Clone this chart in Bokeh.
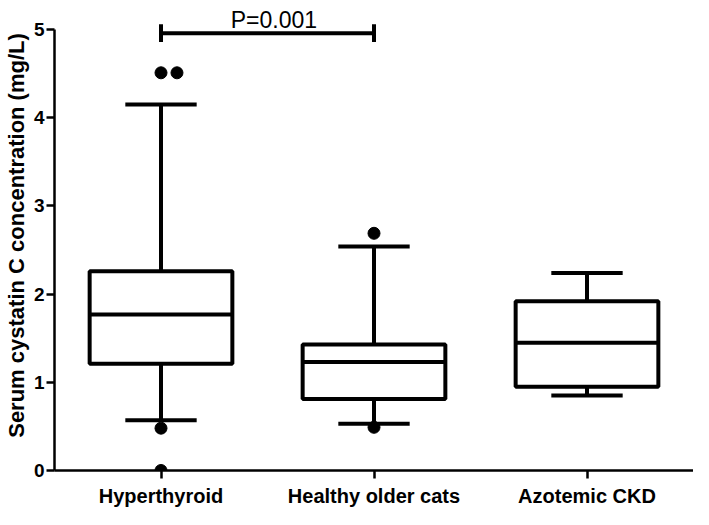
from bokeh.plotting import figure
from bokeh.models import ColumnDataSource, FactorRange, Range1d, FixedTicker
from bokeh.transform import dodge
from bokeh.embed import file_html
from bokeh.resources import INLINE
from bokeh.core.properties import value

# ---- data ----
categories = ["Hyperthyroid", "Healthy older cats", "Azotemic CKD"]
q1 = [1.21, 0.81, 0.95]
median = [1.77, 1.23, 1.45]
q3 = [2.26, 1.43, 1.92]
whisker_low = [0.57, 0.53, 0.85]
whisker_high = [4.15, 2.54, 2.24]

outlier_cat = ["Hyperthyroid", "Hyperthyroid", "Hyperthyroid", "Hyperthyroid",
               "Healthy older cats", "Healthy older cats"]
outlier_val = [4.51, 4.51, 0.48, 0.0, 2.69, 0.49]
outlier_shift = [0.0, 0.075, 0.0, 0.0, 0.0, 0.0]

sig_from = "Hyperthyroid"
sig_to = "Healthy older cats"
sig_y = 4.96
sig_text = "P=0.001"

y_ticks = [0, 1, 2, 3, 4, 5]

FONT = "Liberation Sans"

# ---- figure ----
p = figure(x_range=FactorRange(*categories, range_padding=0),
           y_range=Range1d(0, 5.33),
           width=693, height=509,
           output_backend="svg", toolbar_location=None,
           min_border_left=40, min_border_right=0,
           min_border_top=0, min_border_bottom=39)
p.outline_line_color = None
p.xgrid.grid_line_color = None
p.ygrid.grid_line_color = None
p.background_fill_color = "white"
p.border_fill_color = "white"

src = ColumnDataSource(dict(cat=categories, q1=q1, med=median, q3=q3,
                            lo=whisker_low, hi=whisker_high))

BOX_W = 0.67
CAP_W = 0.335
LW = 4

# whiskers
p.segment(x0="cat", x1="cat", y0="q3", y1="hi", source=src, line_color="black", line_width=LW)
p.segment(x0="cat", x1="cat", y0="lo", y1="q1", source=src, line_color="black", line_width=LW)
# caps
p.segment(x0=dodge("cat", -CAP_W / 2, range=p.x_range), x1=dodge("cat", CAP_W / 2, range=p.x_range),
          y0="hi", y1="hi", source=src, line_color="black", line_width=LW)
p.segment(x0=dodge("cat", -CAP_W / 2, range=p.x_range), x1=dodge("cat", CAP_W / 2, range=p.x_range),
          y0="lo", y1="lo", source=src, line_color="black", line_width=LW)
# boxes
p.vbar(x="cat", top="q3", bottom="q1", width=BOX_W, source=src,
       fill_color="white", line_color="black", line_width=LW)
# medians
p.segment(x0=dodge("cat", -BOX_W / 2, range=p.x_range), x1=dodge("cat", BOX_W / 2, range=p.x_range),
          y0="med", y1="med", source=src, line_color="black", line_width=LW)

# outliers
for sh in sorted(set(outlier_shift)):
    idx = [i for i, s in enumerate(outlier_shift) if s == sh]
    osrc = ColumnDataSource(dict(cat=[outlier_cat[i] for i in idx],
                                 val=[outlier_val[i] for i in idx]))
    p.scatter(x=dodge("cat", sh, range=p.x_range), y="val", source=osrc,
              size=12, fill_color="black", line_color="black")

# significance bar
ssrc = ColumnDataSource(dict(a=[sig_from], b=[sig_to], y=[sig_y], t=[sig_text]))
p.segment(x0="a", x1="b", y0="y", y1="y", source=ssrc, line_color="black", line_width=LW)
csrc = ColumnDataSource(dict(c=[sig_from, sig_to], y=[sig_y, sig_y]))
p.segment(x0="c", x1="c", y0=dodge("y", -0.1), y1=dodge("y", 0.1), source=csrc,
          line_color="black", line_width=LW)
p.text(x=dodge("a", 0.53, range=p.x_range), y=dodge("y", 0.15), text="t", source=ssrc,
       text_font=value(FONT), text_font_size="23px", text_color="black",
       text_align="center", text_baseline="alphabetic")

# axes
p.yaxis.ticker = FixedTicker(ticks=y_ticks)
p.yaxis.bounds = (0, 5)
p.yaxis.minor_tick_line_color = None
p.yaxis.major_tick_out = 8
p.yaxis.major_tick_in = 0
p.yaxis.axis_line_width = 2.5
p.yaxis.major_tick_line_width = 2.5
p.yaxis.major_label_text_font = FONT
p.yaxis.major_label_text_font_style = "bold"
p.yaxis.major_label_text_font_size = "19px"
p.yaxis.major_label_text_color = "black"
p.yaxis.major_label_standoff = 2
p.yaxis.axis_label = "Serum cystatin C concentration (mg/L)"
p.yaxis.axis_label_text_font = FONT
p.yaxis.axis_label_text_font_style = "bold"
p.yaxis.axis_label_text_font_size = "22px"
p.yaxis.axis_label_text_color = "black"
p.yaxis.axis_label_standoff = 2

p.xaxis.major_tick_out = 8
p.xaxis.major_tick_in = 0
p.xaxis.axis_line_width = 2.5
p.xaxis.major_tick_line_width = 2.5
p.xaxis.major_label_text_font = FONT
p.xaxis.major_label_text_font_style = "bold"
p.xaxis.major_label_text_font_size = "20px"
p.xaxis.major_label_text_color = "black"
p.xaxis.major_label_standoff = 6

open("out.html", "w").write(file_html(p, INLINE))
